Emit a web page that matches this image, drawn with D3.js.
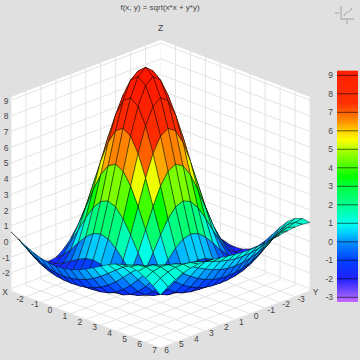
<!DOCTYPE html>
<html><head><meta charset="utf-8">
<script src="https://cdn.jsdelivr.net/npm/d3@7"></script>
<style>html,body{margin:0;padding:0;background:#e0e0e0}svg{display:block}text{font-family:"Liberation Sans",Arial,sans-serif;fill:#444}</style>
</head><body><svg id="c" width="360" height="360"></svg>
<script>
const xTicks=[-2,-1,0,1,2,3,4,5,6,7];
const yTicks=[-3,-2,-1,0,1,2,3,4,5,6];
const zTicks=[-3,-2,-1,0,1,2,3,4,5,6,7,8,9];
const xs=[-3,-2.5,-2,-1.5,-1,-0.5,0,0.5,1,1.5,2,2.5,3,3.5,4,4.5,5,5.5,6,6.5,7];
const ys=[-4,-3.5,-3,-2.5,-2,-1.5,-1,-0.5,0,0.5,1,1.5,2,2.5,3,3.5,4,4.5,5,5.5,6];
const zRows=[
[-1.92,-2.12,-2.17,-2.12,-2.02,-1.92,-1.89,-1.92,-2.02,-2.12,-2.17,-2.12,-1.92,-1.55,-1.04,-.43,.19,.73,1.11,1.28,1.21],
[-2.16,-2.13,-1.92,-1.62,-1.32,-1.09,-1,-1.09,-1.32,-1.62,-1.92,-2.13,-2.16,-1.96,-1.55,-.97,-.29,.36,.89,1.21,1.28],
[-2.10,-1.77,-1.25,-.63,-.07,.33,.47,.33,-.07,-.63,-1.25,-1.77,-2.10,-2.16,-1.92,-1.42,-.75,-.03,.61,1.07,1.28],
[-1.77,-1.09,-.19,.77,1.61,2.19,2.39,2.19,1.61,.77,-.19,-1.09,-1.77,-2.13,-2.12,-1.76,-1.14,-.40,.33,.90,1.23],
[-1.25,-.19,1.09,2.39,3.52,4.28,4.55,4.28,3.52,2.39,1.09,-.19,-1.25,-1.92,-2.17,-1.99,-1.45,-.71,.07,.73,1.15],
[-.63,.77,2.39,4.02,5.40,6.33,6.65,6.33,5.40,4.02,2.39,.77,-.63,-1.62,-2.12,-2.11,-1.67,-.97,-.16,.57,1.07],
[-.07,1.61,3.52,5.40,6.99,8.05,8.42,8.05,6.99,5.40,3.52,1.61,-.07,-1.32,-2.02,-2.16,-1.82,-1.14,-.33,.44,1.00],
[.33,2.19,4.28,6.33,8.05,9.19,9.59,9.19,8.05,6.33,4.28,2.19,.33,-1.09,-1.92,-2.17,-1.89,-1.25,-.43,.36,.96],
[.47,2.39,4.55,6.65,8.42,9.59,10,9.59,8.42,6.65,4.55,2.39,.47,-1,-1.89,-2.17,-1.92,-1.28,-.47,.33,.94],
[.33,2.19,4.28,6.33,8.05,9.19,9.59,9.19,8.05,6.33,4.28,2.19,.33,-1.09,-1.92,-2.17,-1.89,-1.25,-.43,.36,.96],
[-.07,1.61,3.52,5.40,6.99,8.05,8.42,8.05,6.99,5.40,3.52,1.61,-.07,-1.32,-2.02,-2.16,-1.82,-1.14,-.33,.44,1.00],
[-.63,.77,2.39,4.02,5.40,6.33,6.65,6.33,5.40,4.02,2.39,.77,-.63,-1.62,-2.12,-2.11,-1.67,-.97,-.16,.57,1.07],
[-1.25,-.19,1.09,2.39,3.52,4.28,4.55,4.28,3.52,2.39,1.09,-.19,-1.25,-1.92,-2.17,-1.99,-1.45,-.71,.07,.73,1.15],
[-1.77,-1.09,-.19,.77,1.61,2.19,2.39,2.19,1.61,.77,-.19,-1.09,-1.77,-2.13,-2.12,-1.76,-1.14,-.40,.33,.90,1.23],
[-2.10,-1.77,-1.25,-.63,-.07,.33,.47,.33,-.07,-.63,-1.25,-1.77,-2.10,-2.16,-1.92,-1.42,-.75,-.03,.61,1.07,1.28],
[-2.16,-2.13,-1.92,-1.62,-1.32,-1.09,-1,-1.09,-1.32,-1.62,-1.92,-2.13,-2.16,-1.96,-1.55,-.97,-.29,.36,.89,1.21,1.28],
[-1.92,-2.12,-2.17,-2.12,-2.02,-1.92,-1.89,-1.92,-2.02,-2.12,-2.17,-2.12,-1.92,-1.55,-1.04,-.43,.19,.73,1.11,1.28,1.21],
[-1.42,-1.76,-1.99,-2.11,-2.16,-2.17,-2.17,-2.17,-2.16,-2.11,-1.99,-1.76,-1.42,-.97,-.43,.13,.64,1.03,1.25,1.26,1.07],
[-.75,-1.14,-1.45,-1.67,-1.82,-1.89,-1.92,-1.89,-1.82,-1.67,-1.45,-1.14,-.75,-.29,.19,.64,1.00,1.23,1.28,1.15,.85],
[-.03,-.40,-.71,-.97,-1.14,-1.25,-1.28,-1.25,-1.14,-.97,-.71,-.40,-.03,.36,.73,1.03,1.23,1.28,1.18,.93,.56],
[.61,.33,.07,-.16,-.33,-.43,-.47,-.43,-.33,-.16,.07,.33,.61,.89,1.11,1.25,1.28,1.18,.95,.62,.22]
];
const colorStops=[-3.2,-3,-2.5,-2,-1,0,0.5,1,1.3,2,3,3.5,4,5,5.5,6,6.5,7,7.5,9.2];
const colorVals=["#c060ff","#a060ff","#6040ff","#2020ff","#0040ff","#0090ff","#00d0ff","#00ffee","#00ffd0","#00ff90","#00ff40","#00ff00","#40ff00","#b0ff00","#ffff00","#ffd000","#ff9000","#ff6000","#ff3000","#ff2000"];
const color=d3.scaleLinear().domain(colorStops).range(colorVals);
const svg=d3.select("#c");
const ux=d3.scaleLinear().domain([-3,7]).range([0,149.5]), vx=d3.scaleLinear().domain([-3,7]).range([0,57]);
const uy=d3.scaleLinear().domain([-4,6]).range([0,-149.5]), vy=d3.scaleLinear().domain([-4,6]).range([0,57]);
const zs=d3.scaleLinear().domain([-3.15,9.2]).range([0,-194]);
const X0=160.5,Y0=234;
const P=(x,y,z)=>[X0+ux(x)+uy(y),Y0+vx(x)+vy(y)+zs(z)];
const poly=a=>a.map(p=>p.join(",")).join(" ");
const zb=-3.15,zt=9.2,xa=-3,xb=7,ya=-4,yb=6;
const g=svg.append("g");
g.append("polygon").attr("points",poly([P(xa,ya,zb),P(xb,ya,zb),P(xb,yb,zb),P(xa,yb,zb)])).attr("fill","#fff");
g.append("polygon").attr("points",poly([P(xa,ya,zb),P(xb,ya,zb),P(xb,ya,zt),P(xa,ya,zt)])).attr("fill","#fff");
g.append("polygon").attr("points",poly([P(xa,ya,zb),P(xa,yb,zb),P(xa,yb,zt),P(xa,ya,zt)])).attr("fill","#fff");
const gl=(a,b)=>g.append("line").attr("x1",a[0]).attr("y1",a[1]).attr("x2",b[0]).attr("y2",b[1]).attr("stroke","#e4e4e4").attr("stroke-width",1);
xTicks.forEach(x=>{gl(P(x,ya,zb),P(x,yb,zb));gl(P(x,ya,zb),P(x,ya,zt));});
yTicks.forEach(y=>{gl(P(xa,y,zb),P(xb,y,zb));gl(P(xa,y,zb),P(xa,y,zt));});
zTicks.forEach(z=>{gl(P(xa,yb,z),P(xa,ya,z));gl(P(xa,ya,z),P(xb,ya,z));});
const cells=[];
for(let j=0;j<20;j++)for(let i=0;i<20;i++){cells.push({i,j,k:i+j,z:Math.max(zRows[j][i],zRows[j][i+1],zRows[j+1][i],zRows[j+1][i+1])});}
cells.sort((a,b)=>a.k-b.k);
svg.append("g").selectAll("polygon").data(cells).join("polygon")
 .attr("points",d=>poly([[d.i,d.j],[d.i+1,d.j],[d.i+1,d.j+1],[d.i,d.j+1]].map(([i,j])=>P(xs[i],ys[j],zRows[j][i]))))
 .attr("fill",d=>color(d.z)).attr("stroke","#000").attr("stroke-opacity",.75).attr("stroke-width",.6).attr("stroke-linejoin","round");
const t=(x,y,s,a="middle",fs=8.5)=>svg.append("text").attr("x",x).attr("y",y).attr("text-anchor",a).attr("dominant-baseline","central").attr("font-size",fs).text(s);
t(160,7,"f(x, y) = sqrt(x*x + y*y)","middle",8);
t(160.5,28,"Z");t(5,292,"X");t(315.5,292,"Y");
zTicks.slice(1).forEach(z=>t(6,P(xa,yb,z)[1]+.5,String(z)));
xTicks.forEach(x=>{const p=P(x,yb,zb);t(p[0]-6,p[1]+2,String(x));});
yTicks.forEach(y=>{const p=P(xb,y,zb);t(p[0]+6,p[1]+2,String(y));});
const cb=d3.scaleLinear().domain([-3,9]).range([297.3,75.3]);
const defs=svg.append("defs").append("linearGradient").attr("id","cbg").attr("x1",0).attr("x2",0).attr("y1",1).attr("y2",0);
colorStops.forEach((s,k)=>defs.append("stop").attr("offset",(s+3.25)/(12.5)).attr("stop-color",colorVals[k]));
svg.append("rect").attr("x",337).attr("y",cb(9.25)).attr("width",21).attr("height",cb(-3.25)-cb(9.25)).attr("fill","url(#cbg)");
zTicks.forEach(z=>{svg.append("line").attr("x1",337).attr("x2",358).attr("y1",cb(z)).attr("y2",cb(z)).attr("stroke","#000").attr("stroke-opacity",.75).attr("stroke-width",.8);t(333,cb(z),String(z),"end");});
const ic=svg.append("g").attr("fill","none").attr("stroke","#999").attr("stroke-width",.9);
ic.append("path").attr("d","M341 6V19H354M344 16C346 10 348 15 352 8M335 13H339M347 20V24");
</script></body></html>
